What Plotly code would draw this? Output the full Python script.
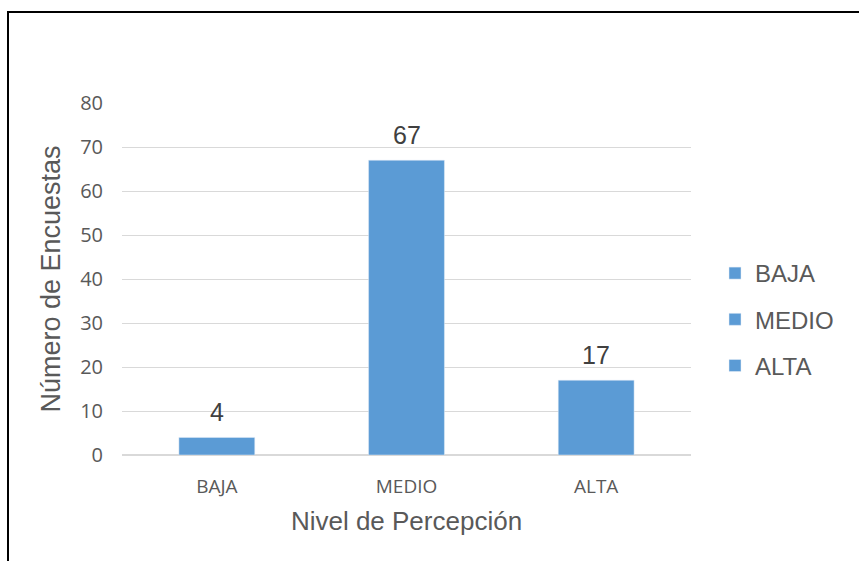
import plotly.graph_objects as go

categories = ["BAJA", "MEDIO", "ALTA"]
values = [4, 67, 17]
y_ticks = [0, 10, 20, 30, 40, 50, 60, 70, 80]

BAR_COLOR = "#5B9BD5"
W, H = 859, 561
L, R, T, B = 122, 168, 103, 106
pw, ph = W - L - R, H - T - B

def px_x(p):
    return (p - L) / pw

def px_y(p):
    return (H - B - p) / ph

fig = go.Figure()
for i, (c, v) in enumerate(zip(categories, values)):
    fig.add_trace(go.Bar(
        x=[c], y=[v], name=c, marker_color=BAR_COLOR,
        width=0.4, offsetgroup="g", legendgroup=c,
        hoverinfo="skip",
    ))
    fig.add_annotation(
        x=c, y=v, text=str(v), showarrow=False, yanchor="bottom", yshift=9,
        font=dict(family="Liberation Sans, Arial", size=25, color="#404040"),
    )

# outer frame (left and top edges)
fig.add_shape(type="line", xref="paper", yref="paper",
              x0=px_x(8), x1=px_x(8), y0=px_y(12), y1=px_y(H + 5),
              line=dict(color="black", width=2))
fig.add_shape(type="line", xref="paper", yref="paper",
              x0=px_x(7), x1=px_x(W + 5), y0=px_y(12), y1=px_y(12),
              line=dict(color="black", width=2))

fig.update_layout(
    width=W, height=H,
    margin=dict(l=L, r=R, t=T, b=B, pad=0),
    paper_bgcolor="white", plot_bgcolor="white",
    barmode="overlay", bargap=0.6,
    font=dict(family="Liberation Sans, Arial", color="#595959"),
    showlegend=True,
    legend=dict(
        x=px_x(715), y=px_y(251), xanchor="left", yanchor="top",
        font=dict(size=24, color="#595959", family="Liberation Sans, Arial"),
        tracegroupgap=12, itemwidth=30, bgcolor="rgba(0,0,0,0)",
    ),
    xaxis=dict(
        categoryorder="array", categoryarray=categories,
        showgrid=False, showline=True, linecolor="#D9D9D9", linewidth=1,
        ticks="", ticklabelstandoff=14,
        tickfont=dict(family="Open Sans, Lato", size=19, color="#595959"),
        title=dict(text="Nivel de Percepción", standoff=14,
                   font=dict(family="Liberation Sans, Arial", size=26, color="#595959")),
    ),
    yaxis=dict(
        range=[0, 80], tickvals=y_ticks,
        showgrid=True, gridcolor="#D9D9D9", gridwidth=1,
        zeroline=True, zerolinecolor="#D9D9D9",
        ticks="", ticklabelstandoff=18,
        tickfont=dict(family="Open Sans, Lato", size=20, color="#595959"),
        title=dict(text="Número de Encuestas", standoff=11,
                   font=dict(family="Liberation Sans, Arial", size=27, color="#595959")),
    ),
)

fig.write_html("out.html")
